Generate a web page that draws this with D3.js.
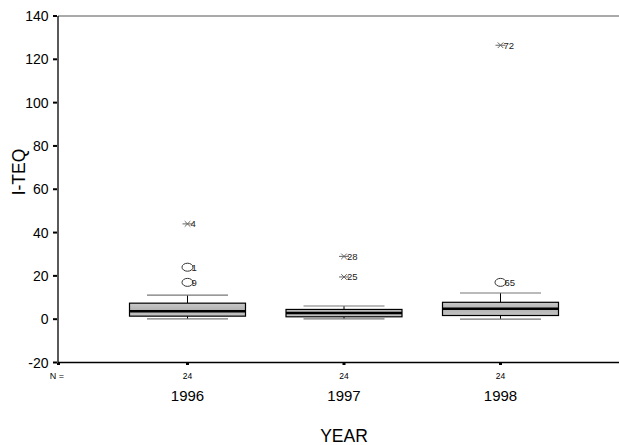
<!DOCTYPE html>
<html><head><meta charset="utf-8">
<script src="https://cdn.jsdelivr.net/npm/d3@7/dist/d3.min.js"></script>
<style>body{margin:0;background:#fff}svg{display:block;font-family:Arial,"Liberation Sans",sans-serif}</style>
</head><body>
<svg id="c" width="619" height="445"></svg>
<script>
const years = ["1996","1997","1998"];
const counts = [24, 24, 24];
const q1 = [1.4, 1.1, 1.7];
const median = [3.7, 2.8, 4.8];
const q3 = [7.4, 4.5, 7.8];
const whiskerLow = [0.1, 0.1, 0.0];
const whiskerHigh = [11.1, 6.1, 12.1];
// outliers: year index, value, case label, type
const outYear = [0, 0, 0, 1, 1, 2, 2];
const outValue = [44, 24, 17, 29, 19.5, 17, 126.5];
const outLabel = ["4", "1", "9", "28", "25", "65", "72"];
const outType = ["extreme", "outlier", "outlier", "extreme", "extreme", "outlier", "extreme"];
const yTicks = [-20, 0, 20, 40, 60, 80, 100, 120, 140];

const svg = d3.select("#c");
const pLeft = 58, pRight = 619, pTop = 16, pBottom = 362.5;
const y = d3.scaleLinear().domain([-20, 140]).range([pBottom, pTop]);
const x = d3.scalePoint().domain(years).range([187.5, 500.5]);
const boxW = 116, capW = 81;

// frame
svg.append("line").attr("x1", pLeft).attr("x2", pRight).attr("y1", pTop).attr("y2", pTop).attr("stroke", "#555").attr("stroke-width", 1);
svg.append("line").attr("x1", pLeft).attr("x2", pLeft).attr("y1", pTop).attr("y2", pBottom).attr("stroke", "#000").attr("stroke-width", 1.3);
svg.append("line").attr("x1", pLeft).attr("x2", pRight).attr("y1", pBottom).attr("y2", pBottom).attr("stroke", "#000").attr("stroke-width", 1.3);

// y axis ticks + labels
const yg = svg.append("g");
yTicks.forEach(t => {
  yg.append("rect").attr("x", pLeft - 5).attr("y", y(t) - 1).attr("width", 4).attr("height", 2).attr("fill", "#000");
  yg.append("text").attr("x", pLeft - 9.5).attr("y", y(t)).attr("dy", "0.36em").attr("text-anchor", "end")
    .attr("font-size", 14).attr("fill", "#000").text(t);
});
svg.append("text").attr("transform", "translate(24.5,172) rotate(-90)")
  .attr("text-anchor", "middle").attr("font-size", 17.5).text("I-TEQ");

// x ticks
svg.append("rect").attr("x", pLeft - 1).attr("y", pBottom).attr("width", 3).attr("height", 2.5).attr("fill", "#000");
years.forEach((yr, i) => {
  svg.append("rect").attr("x", x(yr) - 1.5).attr("y", pBottom).attr("width", 3).attr("height", 2.5).attr("fill", "#000");
  svg.append("text").attr("x", x(yr)).attr("y", 379).attr("text-anchor", "middle").attr("font-size", 8.5).text(counts[i]);
  svg.append("text").attr("x", x(yr)).attr("y", 401).attr("text-anchor", "middle").attr("font-size", 15).text(yr);
});
svg.append("text").attr("x", 57).attr("y", 379).attr("text-anchor", "middle").attr("font-size", 9).text("N =");
svg.append("text").attr("x", 344).attr("y", 442).attr("text-anchor", "middle").attr("font-size", 17.5).text("YEAR");

// boxes
const defs = svg.append("defs");
const grad = defs.append("linearGradient").attr("id", "bg").attr("x1", 0).attr("x2", 0).attr("y1", 0).attr("y2", 1);
grad.append("stop").attr("offset", "0%").attr("stop-color", "#c8c8c8");
grad.append("stop").attr("offset", "50%").attr("stop-color", "#b4b4b4");
grad.append("stop").attr("offset", "100%").attr("stop-color", "#c4c4c4");

years.forEach((yr, i) => {
  const cx = x(yr);
  const g = svg.append("g");
  g.append("line").attr("x1", cx).attr("x2", cx).attr("y1", y(whiskerHigh[i])).attr("y2", y(q3[i])).attr("stroke", "#000").attr("stroke-width", 1);
  g.append("line").attr("x1", cx).attr("x2", cx).attr("y1", y(q1[i])).attr("y2", y(whiskerLow[i])).attr("stroke", "#000").attr("stroke-width", 1);
  [whiskerHigh[i], whiskerLow[i]].forEach(v => {
    g.append("line").attr("x1", cx - capW / 2).attr("x2", cx + capW / 2).attr("y1", y(v)).attr("y2", y(v)).attr("stroke", "#777").attr("stroke-width", 1.2);
  });
  g.append("rect").attr("x", cx - boxW / 2).attr("y", y(q3[i])).attr("width", boxW).attr("height", y(q1[i]) - y(q3[i]))
    .attr("fill", "url(#bg)").attr("stroke", "#000").attr("stroke-width", 1.2);
  g.append("line").attr("x1", cx - boxW / 2).attr("x2", cx + boxW / 2).attr("y1", y(median[i])).attr("y2", y(median[i]))
    .attr("stroke", "#000").attr("stroke-width", 2.5);
});

// outliers
outValue.forEach((v, k) => {
  const cx = x(years[outYear[k]]);
  const cy = y(v);
  const g = svg.append("g");
  if (outType[k] === "outlier") {
    g.append("ellipse").attr("cx", cx).attr("cy", cy).attr("rx", 5.5).attr("ry", 4)
      .attr("fill", "none").attr("stroke", "#333").attr("stroke-width", 1);
    g.append("text").attr("x", cx + 4).attr("y", cy + 4).attr("font-size", 9.5).attr("fill", "#222").text(outLabel[k]);
  } else {
    const s = 4;
    g.append("line").attr("x1", cx - s - 1).attr("x2", cx + s + 1).attr("y1", cy).attr("y2", cy).attr("stroke", "#666");
    g.append("line").attr("x1", cx - s * 0.7).attr("x2", cx + s * 0.7).attr("y1", cy - s * 0.7).attr("y2", cy + s * 0.7).attr("stroke", "#666");
    g.append("line").attr("x1", cx - s * 0.7).attr("x2", cx + s * 0.7).attr("y1", cy + s * 0.7).attr("y2", cy - s * 0.7).attr("stroke", "#666");
    g.append("text").attr("x", cx + 3).attr("y", cy + 3.5).attr("font-size", 9.5).attr("fill", "#222").text(outLabel[k]);
  }
});
</script>
</body></html>
